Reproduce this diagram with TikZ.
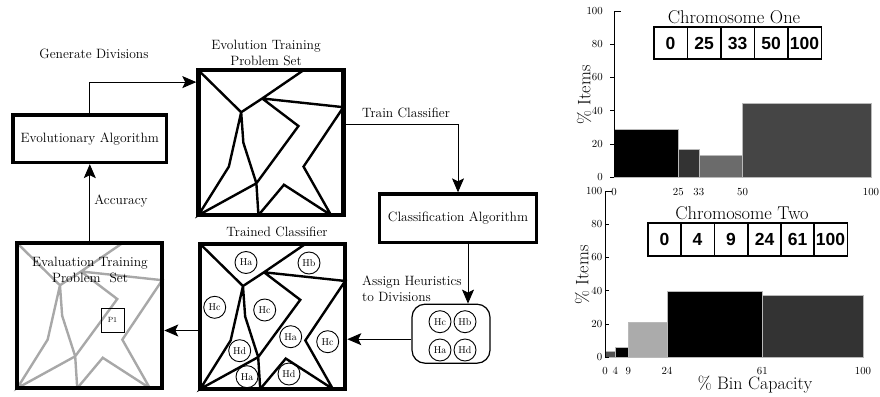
\documentclass[tikz,border=0pt]{standalone}
\usepackage{fontspec}
\newfontfamily\cellfont{Liberation Sans}
\usetikzlibrary{arrows.meta,calc}
\definecolor{divgrey}{HTML}{A8A8A8}
\begin{document}
\begin{tikzpicture}[x=1pt,y=-1pt,
  lbl/.style={font=\fontsize{13.5}{16.5}\selectfont, align=center, inner sep=0pt},
  algbox/.style={draw, line width=3.2pt, minimum width=#1, minimum height=47.5pt, inner sep=0pt, font=\fontsize{13.5}{15}\selectfont},
  divbox/.style={draw, line width=4.2pt, minimum size=145pt, inner sep=0pt},
  heur/.style={draw, circle, line width=0.9pt, minimum size=22pt, inner sep=0pt, font=\fontsize{10}{11}\selectfont},
  arr/.style={line width=0.9pt, -{Stealth[length=14pt,width=12pt,inset=3pt]}},
  divline/.style={line width=2.4pt, line join=miter},
  tick/.style={font=\fontsize{10.8}{12}\selectfont, inner sep=0pt},
  cell/.style={draw, line width=1.3pt, minimum width=33.3pt, minimum height=32pt, inner sep=0pt, font=\cellfont\bfseries\fontsize{17.5}{19}\selectfont},
  bar/.style={draw=gray!55, line width=0.5pt},
  axtitle/.style={font=\fontsize{18}{20}\selectfont, inner sep=0pt},
  ctitle/.style={font=\fontsize{18.5}{20}\selectfont, inner sep=0pt}
]
\useasboundingbox (0,0) rectangle (880,396);
\newcommand\divpattern[2]{%
  \begin{scope}[shift={(#1)}, x=145pt, y=-145pt]
  \draw[#2] (0,0)--(0.295,0.29)--(0.44,0.195)--(0.725,0)
            (0.44,0.195)--(1,0.255)--(0.725,0.665)--(0.915,1)
            (0.44,0.195)--(0.69,0.385)--(0.40,0.78)--(0.414,1)
            (0.295,0.29)--(0.21,0.665)--(0,1)--(0.40,0.78)
            (0.295,0.29)--(0.31,0.5)--(0.40,0.78)
            (0.414,1)--(0.59,0.79)--(0.915,1);
  \end{scope}}

% ---------- left diagram ----------
\node[algbox=153.7pt] (ea) at (89.8,138.8) {Evolutionary Algorithm};
\node[algbox=157.4pt, minimum height=48.7pt] (cls) at (458,218.3) {Classification Algorithm};

% evolution training problem set
\divpattern{198.4,70.2}{divline}
\node[divbox] (evo) at (270.9,142.7) {};
\node[lbl] (evot) at (266,53) {Evolution Training\\Problem Set};

% trained classifier
\divpattern{200.2,244}{divline}
\node[divbox] (tc) at (272.7,316.5) {};
\node[lbl] (tct) at (277,232) {Trained Classifier};
\node[heur] (t1) at (246,262.5) {Ha};
\node[heur] (t2) at (309,263) {Hb};
\node[heur] (t3) at (214.7,307.3) {Hc};
\node[heur] (t4) at (264.7,310) {Hc};
\node[heur] (t5) at (290.7,336.7) {Ha};
\node[heur] (t6) at (327.7,341.7) {Hc};
\node[heur] (t7) at (239.7,350.7) {Hd};
\node[heur] (t8) at (247,376.7) {Ha};
\node[heur] (t9) at (289,374) {Hd};

% evaluation training problem set
\divpattern{17.2,243.2}{divline, draw=divgrey}
\node[divbox] (ev) at (89.7,315.7) {};
\node[lbl] (evt) at (90,270) {Evaluation Training\\Problem\ \ Set};
\node[draw, line width=0.9pt, minimum width=23pt, minimum height=24pt, inner sep=0pt, font=\fontsize{7.5}{8}\selectfont] (p1) at (112.5,320) {P1};

% heuristic pool
\node[draw, line width=1.2pt, rounded corners=13pt, minimum width=78pt, minimum height=59pt] (pool) at (451,333.7) {};
\node[heur] (h1) at (440,321.7) {Hc};
\node[heur] (h2) at (465,321.7) {Hb};
\node[heur] (h3) at (440,350) {Ha};
\node[heur] (h4) at (465,350) {Hd};

% connectors
\draw[arr] (ea.north) |- ([yshift=-14pt]evo.north west);
\node[lbl] (gd) at (94,54) {Generate Divisions};
\draw[arr] ([yshift=18pt]evo.east) -| (cls.north);
\node[lbl] (trc) at (406,113) {Train Classifier};
\draw[arr] ([xshift=10pt]cls.south) -- ([xshift=10pt]cls.south |- pool.north);
\node[lbl, align=left, anchor=west] (ah) at (362,288.5) {Assign Heuristics\\to Divisions};
\draw[arr] ([yshift=-5.5pt]pool.west) -- ([yshift=-5.5pt]pool.west -| tc.east);
\draw[arr] ([yshift=-14pt]tc.west) -- ([yshift=-14pt]tc.west -| ev.east);
\draw[arr] (ev.north -| ea.south) -- (ea.south);
\node[lbl] (acc) at (121,201) {Accuracy};

% ---------- top chart ----------
\begin{scope}[shift={(614,177)}, x=2.57pt, y=1.66pt]
  \filldraw[bar, fill=black] (0,0) rectangle (25,29);
  \filldraw[bar, fill=black!80] (25,0) rectangle (33,17);
  \filldraw[bar, fill=black!58] (33,0) rectangle (50,13);
  \filldraw[bar, fill=black!73] (50,0) rectangle (100,44.6);
  \draw[line width=0.8pt] (0,0) -- (0,100) -- (2.7,100);
  \foreach \v in {0,20,40,60,80} \draw[line width=0.6pt] (0,\v) -- (-1.5,\v);
  \foreach \v in {0,20,40,60,80,100} \node[tick, anchor=east] at (-4.3,\v) {\v};
  \foreach \v in {0,25,33,50,100} \node[tick] at (\v,-9.2) {\v};
\end{scope}
\node[axtitle, rotate=90] (yl1) at (584,95) {\% Items};
\node[ctitle] (ct1) at (734,17) {Chromosome One};
\node[cell] (a1) at (670.5,43) {0};
\node[cell] (a2) at (704,43) {25};
\node[cell] (a3) at (737.5,43) {33};
\node[cell] (a4) at (771,43) {50};
\node[cell] (a5) at (804.5,43) {100};

% ---------- bottom chart ----------
\begin{scope}[shift={(605,357)}, x=2.58pt, y=1.66pt]
  \filldraw[bar, fill=black!68] (0,0) rectangle (4,3.2);
  \filldraw[bar, fill=black] (4,0) rectangle (9,5.6);
  \filldraw[bar, fill=black!33] (9,0) rectangle (24,21);
  \filldraw[bar, fill=black] (24,0) rectangle (61,39.7);
  \filldraw[bar, fill=black!80] (61,0) rectangle (100,37.3);
  \draw[line width=0.8pt] (0,0) -- (0,100) -- (2.7,100);
  \foreach \v in {0,20,40,60,80} \draw[line width=0.6pt] (0,\v) -- (1.5,\v);
  \foreach \v in {0,20,40,60,80,100} \node[tick, anchor=east] at (-1,\v) {\v};
  \foreach \v in {0,4,9,24,61,100} \node[tick] at (\v,-8.4) {\v};
\end{scope}
\node[axtitle, rotate=90] (yl2) at (582,275) {\% Items};
\node[axtitle] (xl2) at (755,385) {\% Bin Capacity};
\node[ctitle] (ct2) at (742,213) {Chromosome Two};
\node[cell, minimum height=33pt] (b1) at (664.5,239.5) {0};
\node[cell, minimum height=33pt] (b2) at (697.5,239.5) {4};
\node[cell, minimum height=33pt] (b3) at (731,239.5) {9};
\node[cell, minimum height=33pt] (b4) at (764.5,239.5) {24};
\node[cell, minimum height=33pt] (b5) at (797.5,239.5) {61};
\node[cell, minimum height=33pt] (b6) at (830.5,239.5) {100};
\end{tikzpicture}
\end{document}
